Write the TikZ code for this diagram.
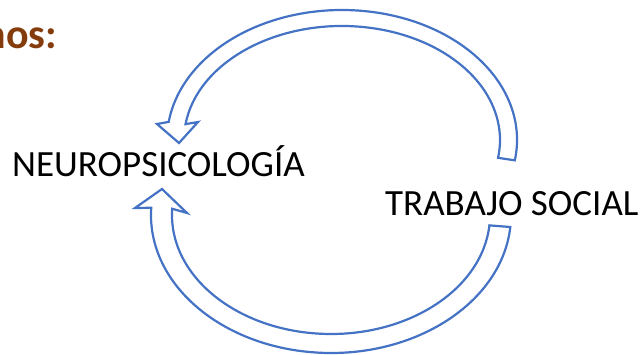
\documentclass[tikz,border=0pt]{standalone}
\usepackage{fontspec}
\setmainfont{Carlito}
\usetikzlibrary{calc}
\definecolor{arrowblue}{RGB}{68,114,196}
\definecolor{titlebrown}{RGB}{132,60,12}

\begin{document}
\begin{tikzpicture}[x=1pt,y=1pt,
  blockarrow/.style={draw=arrowblue, line width=2.2pt, line join=miter},
  term/.style={anchor=base west, inner sep=0pt, font=\fontsize{37}{44}\selectfont}]
  \useasboundingbox (0,0) rectangle (641,-355);
  \node[anchor=base east, inner sep=0pt, text=titlebrown, font=\fontsize{42}{50}\selectfont\bfseries] (title) at (57.5,-49) {nos:};
  \node[term] (neuro) at (12,-177) {NEUROPSICOLOGÍA};
  \node[term] (trabajo) at (385,-216) {TRABAJO SOCIAL};
  \coordinate (c1) at (342,-140);
  \coordinate (c2) at (331,-215);

  % upper arrow, back to neuro
  \draw[blockarrow] ($(c1)+(-9:175pt and 130pt)$) arc[start angle=-9, end angle=172, x radius=175pt, y radius=130pt]
    -- (157,-124) -- (179,-143) -- (198,-122)
    -- ($(c1)+(172:158pt and 114pt)$) arc[start angle=172, end angle=-9, x radius=158pt, y radius=114pt] -- cycle;
  % lower arrow
  \draw[blockarrow] ($(c2)+(-5:180pt and 138pt)$) arc[start angle=-5, end angle=-183, x radius=180pt, y radius=138pt]
    -- (135,-208) -- (162,-189) -- (187,-213)
    -- ($(c2)+(-183:159pt and 119pt)$) arc[start angle=-183, end angle=-5, x radius=159pt, y radius=119pt] -- cycle;
\end{tikzpicture}
\end{document}
